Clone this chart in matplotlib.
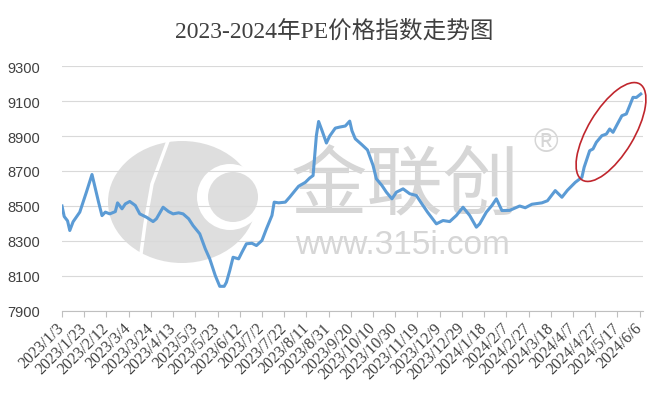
import datetime as dt
import matplotlib
matplotlib.use("Agg")
import matplotlib.pyplot as plt
from matplotlib.patches import Ellipse, Circle

# PE price index (days after 2023/1/3)
start = dt.date(2023, 1, 3)
day_offset = [0, 2, 5, 7, 10, 16, 22, 27, 30, 33, 36, 39, 43, 48, 50, 54, 57, 61, 66,
              70, 76, 82, 85, 91, 96, 100, 105, 109, 114, 118, 124, 129, 133, 138,
              142, 146, 148, 151, 154, 159, 162, 166, 171, 175, 180, 184, 189, 191,
              195, 201, 205, 210, 213, 219, 223, 226, 228, 229, 231, 234, 238, 241,
              246, 250, 255, 259, 261, 264, 270, 275, 280, 283, 288, 292, 297, 301,
              307, 313, 319, 324, 329, 337, 343, 349, 355, 361, 367, 373, 376, 382,
              387, 391, 396, 403, 412, 417, 423, 432, 437, 444, 450, 455, 462, 468,
              470, 475, 478, 481, 486, 490, 493, 496, 500, 504, 508, 511, 514, 517, 521]
pe_index = [8500, 8440, 8415, 8360, 8410, 8465, 8580, 8680, 8600, 8520, 8445, 8465,
            8455, 8468, 8518, 8484, 8512, 8526, 8503, 8455, 8436, 8411, 8427, 8493,
            8468, 8455, 8461, 8455, 8427, 8388, 8341, 8255, 8198, 8102, 8041, 8041,
            8064, 8131, 8207, 8198, 8236, 8284, 8287, 8274, 8303, 8369, 8446, 8522,
            8518, 8522, 8551, 8590, 8613, 8635, 8660, 8674, 8827, 8903, 8983, 8932,
            8860, 8900, 8945, 8951, 8957, 8985, 8930, 8884, 8850, 8820, 8732, 8655,
            8617, 8579, 8541, 8579, 8598, 8570, 8560, 8512, 8465, 8398, 8417, 8411,
            8446, 8493, 8446, 8379, 8398, 8465, 8503, 8541, 8474, 8475, 8500, 8490,
            8510, 8518, 8530, 8588, 8550, 8590, 8635, 8664, 8721, 8816, 8826, 8864,
            8902, 8911, 8940, 8921, 8969, 9016, 9026, 9073, 9121, 9120, 9140]

tick_days = list(range(0, 521, 20))
tick_labels = []
for k in tick_days:
    d = start + dt.timedelta(days=k)
    tick_labels.append(f"{d.year}/{d.month}/{d.day}")
y_ticks = list(range(7900, 9301, 200))
title = "2023-2024年PE价格指数走势图"

fig = plt.figure(figsize=(6.62, 4.02), dpi=100)

# watermark layer (pixel coordinates)
bg = fig.add_axes([0, 0, 1, 1], zorder=0)
bg.set_xlim(0, 662)
bg.set_ylim(402, 0)
bg.axis("off")
wm = "#dedede"
bg.add_patch(Ellipse((182, 203), 148, 122, color=wm, lw=0))
bg.plot([168, 152, 145, 140], [142, 185, 225, 262], color="white", lw=2.5,
        solid_capstyle="round")
bg.add_patch(Circle((230, 198), 33, color="white", lw=0))
bg.add_patch(Circle((233, 198), 25, color=wm, lw=0))
bg.text(405, 188, "金联创", fontsize=55, color="#d6d6d6", ha="center", va="center",
        family=["Noto Sans CJK SC", "DejaVu Sans"], weight="light")
bg.text(546, 144, "®", fontsize=24, color="#d6d6d6", ha="center", va="center",
        family="Liberation Sans")
bg.text(402, 246, "www.315i.com", fontsize=24, color="#d6d6d6", ha="center", va="center",
        family="Liberation Sans")

ax = fig.add_axes([62 / 662, 1 - 312 / 402, 581 / 662, 245 / 402], zorder=1)
ax.patch.set_alpha(0)
ax.plot(day_offset, pe_index, color="#5B9BD5", lw=2.2, solid_joinstyle="round", zorder=3)
ax.set_xlim(0, 523)
ax.set_ylim(7900, 9300)
ax.set_yticks(y_ticks)
ax.set_yticklabels([str(v) for v in y_ticks], family="Liberation Sans", fontsize=10.5,
                   color="#404040")
ax.grid(axis="y", color="#d9d9d9", lw=0.8)
ax.set_axisbelow(True)
for s in ["top", "right", "left"]:
    ax.spines[s].set_visible(False)
ax.spines["bottom"].set_color("#bfbfbf")
ax.set_xticks(tick_days)
ax.set_xticklabels(tick_labels, rotation=45, ha="right", va="center",
                   rotation_mode="anchor", family="Liberation Serif",
                   fontsize=11.5, color="#404040")
ax.tick_params(axis="x", length=4, color="#bfbfbf", pad=6)
ax.tick_params(axis="y", length=0, pad=16)

fig.text(334 / 662, 1 - 31 / 402, title, ha="center", va="center", fontsize=17,
         color="#404040", family=["Liberation Serif", "Noto Sans CJK SC"])

# red highlight ellipse
fg = fig.add_axes([0, 0, 1, 1], zorder=2)
fg.set_xlim(0, 662)
fg.set_ylim(402, 0)
fg.axis("off")
fg.add_patch(Ellipse((611, 133), 112, 46, angle=-59, fill=False, ec="#C0262D", lw=1.2))

fig.savefig("out.png", dpi=100)
